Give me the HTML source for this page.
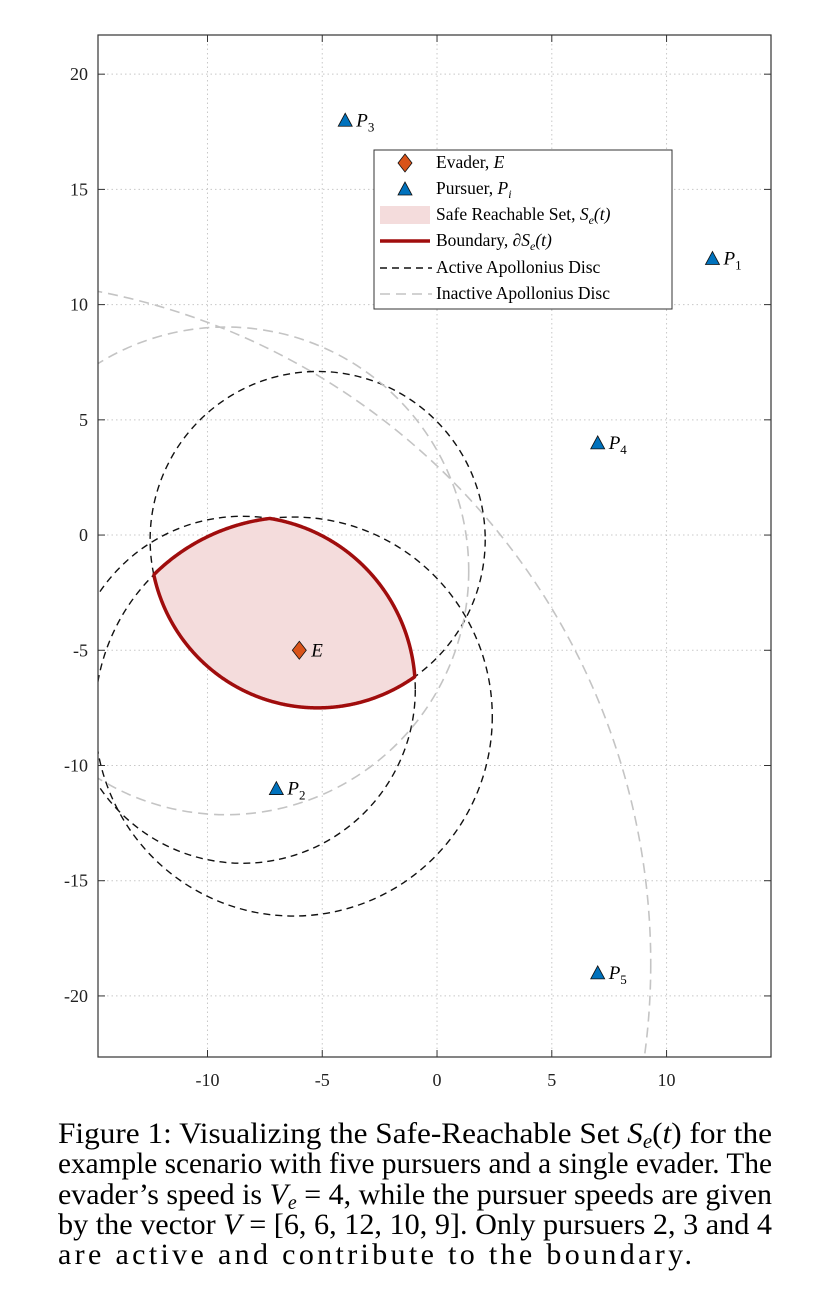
<!DOCTYPE html>
<html style="overflow:hidden"><head><meta charset="utf-8">
<style>
html,body{margin:0;background:#fff;width:830px;height:1315px;overflow:hidden}
svg{display:block}
text{font-family:"Liberation Serif",serif}
</style></head>
<body>
<svg id="fig" width="830" height="1315" xmlns="http://www.w3.org/2000/svg">
<defs><clipPath id="clip"><rect x="98" y="35" width="673" height="1022"/></clipPath></defs>
<rect x="98" y="35" width="673" height="1022" fill="#fff"/>
<g id="grid"></g>
<g id="marks" clip-path="url(#clip)"></g>
<g id="axes"></g>
<g id="legend"></g>
<g font-size="30" fill="#000">
<text x="58" y="1143" textLength="714" lengthAdjust="spacingAndGlyphs">Figure 1: Visualizing the Safe-Reachable Set <tspan font-style="italic">S</tspan><tspan font-size="20" dy="5" font-style="italic">e</tspan><tspan dy="-5">(</tspan><tspan font-style="italic">t</tspan>) for the</text>
<text x="58" y="1173" textLength="714" lengthAdjust="spacingAndGlyphs">example scenario with five pursuers and a single evader. The</text>
<text x="58" y="1204" textLength="714" lengthAdjust="spacingAndGlyphs">evader’s speed is <tspan font-style="italic">V</tspan><tspan font-size="20" dy="5" font-style="italic">e</tspan><tspan dy="-5"> = 4, while the pursuer speeds are given</tspan></text>
<text x="58" y="1234" textLength="714" lengthAdjust="spacingAndGlyphs">by the vector <tspan font-style="italic">V</tspan> = [6, 6, 12, 10, 9]. Only pursuers 2, 3 and 4</text>
<text x="58" y="1264" textLength="634" lengthAdjust="spacing">are active and contribute to the boundary.</text>
</g>
</svg>
<script>
const xTicks=[-10,-5,0,5,10];
const yTicks=[20,15,10,5,0,-5,-10,-15,-20];
const evader=[-6,-5];
const pursuerX=[12,-7,-4,7,7];
const pursuerY=[12,-11,18,4,-19];
const pursuerSpeed=[6,6,12,10,9];
const evaderSpeed=4;
const activeIdx=[1,2,3];
const xMin=-14.77,xMax=14.55,yMin=-22.65,yMax=21.7;
const L=98,R=771,T=35,B=1057;
const NS="http://www.w3.org/2000/svg";
const sx=v=>L+(v-xMin)/(xMax-xMin)*(R-L);
const sy=v=>B-(v-yMin)/(yMax-yMin)*(B-T);
function mk(tag,attrs,parent){const e=document.createElementNS(NS,tag);for(const k in attrs)e.setAttribute(k,attrs[k]);parent.appendChild(e);return e;}
const grid=document.getElementById('grid'),axes=document.getElementById('axes'),marks=document.getElementById('marks'),legend=document.getElementById('legend');
xTicks.forEach(v=>{
 const g=mk('line',{x1:sx(v),x2:sx(v),y1:T,y2:B,stroke:'#c8c8c8','stroke-dasharray':'1.5 3'},grid);
 
 mk('line',{x1:sx(v),x2:sx(v),y1:B,y2:B-7,stroke:'#333'},axes);
 mk('line',{x1:sx(v),x2:sx(v),y1:T,y2:T+7,stroke:'#333'},axes);
 const t=mk('text',{x:sx(v),y:B+29,'text-anchor':'middle','font-size':18,fill:'#222'},axes);t.textContent=v;
 
});
yTicks.forEach(v=>{
 const g=mk('line',{x1:L,x2:R,y1:sy(v),y2:sy(v),stroke:'#c8c8c8','stroke-dasharray':'1.5 3'},grid);
 
 mk('line',{x1:L,x2:L+7,y1:sy(v),y2:sy(v),stroke:'#333'},axes);
 mk('line',{x1:R,x2:R-7,y1:sy(v),y2:sy(v),stroke:'#333'},axes);
 const t=mk('text',{x:L-10,y:sy(v)+6,'text-anchor':'end','font-size':18,fill:'#222'},axes);t.textContent=v;
 
});
const fr=mk('rect',{x:L,y:T,width:R-L,height:B-T,fill:'none',stroke:'#333','stroke-width':1.2},axes);

const circles=pursuerX.map((px,i)=>{
 const k=evaderSpeed/pursuerSpeed[i],k2=k*k,py=pursuerY[i];
 const cx=(evader[0]-k2*px)/(1-k2),cy=(evader[1]-k2*py)/(1-k2);
 const r=k*Math.hypot(px-evader[0],py-evader[1])/(1-k2);
 return {cx,cy,r};
});
const ppx=(R-L)/(xMax-xMin),ppy=(B-T)/(yMax-yMin);
let pts=[];
for(let a=0;a<=720;a++){
 const th=a/720*2*Math.PI,dx=Math.cos(th),dy=Math.sin(th);let tmin=1e9;
 activeIdx.forEach(i=>{const c=circles[i];const fx=evader[0]-c.cx,fy=evader[1]-c.cy;
  const b=fx*dx+fy*dy,cc=fx*fx+fy*fy-c.r*c.r;const t=-b+Math.sqrt(b*b-cc);if(t<tmin)tmin=t;});
 pts.push(sx(evader[0]+tmin*dx).toFixed(2)+','+sy(evader[1]+tmin*dy).toFixed(2));
}
const fill=mk('polygon',{points:pts.join(' '),fill:'#f4dcdc',stroke:'none'},marks);

circles.forEach((c,i)=>{
 const act=activeIdx.includes(i);
 const e=mk('ellipse',{cx:sx(c.cx),cy:sy(c.cy),rx:c.r*ppx,ry:c.r*ppy,fill:'none',stroke:act?'#111':'#c4c4c4','stroke-width':act?1.4:1.6,'stroke-dasharray':act?'7 5':'10 6'},marks);
 
});
const bd=mk('polygon',{points:pts.join(' '),fill:'none',stroke:'#a00d0d','stroke-width':3.5,'stroke-linejoin':'round'},marks);

function tri(x,y,p,name){const e=mk('polygon',{points:`${x-7},${y+6} ${x+7},${y+6} ${x},${y-7}`,fill:'#0072BD',stroke:'#111','stroke-width':0.8},p);
 }
function dia(x,y,p,name){const e=mk('polygon',{points:`${x},${y-9} ${x+7},${y} ${x},${y+9} ${x-7},${y}`,fill:'#D95319',stroke:'#111','stroke-width':0.8},p);
 }
pursuerX.forEach((px,i)=>{
 const X=sx(px),Y=sy(pursuerY[i]);tri(X,Y,marks,'pursuer-'+(i+1));
 const t=mk('text',{x:X+11,y:Y+6,'font-size':19,'font-style':'italic'},marks);
 t.innerHTML='P<tspan font-size="13" dy="5" font-style="normal">'+(i+1)+'</tspan>';
 
});
dia(sx(evader[0]),sy(evader[1]),marks,'evader');
const el=mk('text',{x:sx(evader[0])+12,y:sy(evader[1])+6,'font-size':19,'font-style':'italic'},marks);el.textContent='E';

const lb=mk('rect',{x:374,y:150,width:298,height:159,fill:'#fff',stroke:'#333'},legend);

const rows=[163,189,215,241,268,294];
const labels=['Evader, <tspan font-style="italic">E</tspan>','Pursuer, <tspan font-style="italic">P<tspan font-size="12" dy="4">i</tspan></tspan>',
'Safe Reachable Set, <tspan font-style="italic">S<tspan font-size="12" dy="4">e</tspan><tspan dy="-4">(t)</tspan></tspan>',
'Boundary, ∂<tspan font-style="italic">S<tspan font-size="12" dy="4">e</tspan><tspan dy="-4">(t)</tspan></tspan>','Active Apollonius Disc','Inactive Apollonius Disc'];
rows.forEach((y,i)=>{
 if(i===0)dia(405,y,legend,'legend-evader-marker');
 if(i===1)tri(405,y,legend,'legend-pursuer-marker');
 if(i===2){const r=mk('rect',{x:380,y:y-9,width:50,height:18,fill:'#f4dcdc'},legend);}
 if(i===3){const l=mk('line',{x1:380,x2:430,y1:y,y2:y,stroke:'#a00d0d','stroke-width':3.5},legend);}
 if(i===4){const l=mk('line',{x1:380,x2:432,y1:y,y2:y,stroke:'#111','stroke-width':1.4,'stroke-dasharray':'7 5'},legend);}
 if(i===5){const l=mk('line',{x1:380,x2:432,y1:y,y2:y,stroke:'#c4c4c4','stroke-width':1.6,'stroke-dasharray':'10 6'},legend);}
 const t=mk('text',{x:436,y:y+5,'font-size':17.5},legend);t.innerHTML=labels[i];
 
});
</script>
</body></html>
